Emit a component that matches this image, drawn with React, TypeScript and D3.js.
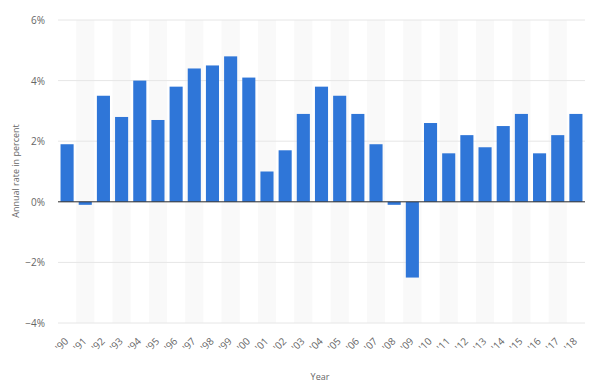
import React from "react";
import * as d3 from "d3";

const years = ["'90","'91","'92","'93","'94","'95","'96","'97","'98","'99","'00","'01","'02","'03","'04","'05","'06","'07","'08","'09","'10","'11","'12","'13","'14","'15","'16","'17","'18"];
const rates = [1.9,-0.1,3.5,2.8,4.0,2.7,3.8,4.4,4.5,4.8,4.1,1.0,1.7,2.9,3.8,3.5,2.9,1.9,-0.1,-2.5,2.6,1.6,2.2,1.8,2.5,2.9,1.6,2.2,2.9];
const yTicks = [-4,-2,0,2,4,6];

export default function App() {
  const W = 600, H = 389;
  const left = 58, right = 585, top = 20, bottom = 323;
  const x = d3.scaleBand<string>().domain(years).range([left, right]).paddingInner(0.28).paddingOuter(0.14);
  const y = d3.scaleLinear().domain([-4, 6]).range([bottom, top]);
  const step = x.step();
  return (
    <svg width={W} height={H} style={{ position: "absolute", left: 0, top: 0, fontFamily: "'Open Sans', sans-serif" }}>
      <rect width={W} height={H} fill="#fff" />
      {years.map((yr, i) => i % 2 === 1 ? (
        <rect key={"s" + yr} x={(x(yr) as number) - (step - x.bandwidth()) / 2} y={top} width={step} height={bottom - top} fill="#f9f9f9" />
      ) : null)}
      {yTicks.map(t => (
        <g key={"g" + t}>
          <line x1={left} x2={right} y1={y(t)} y2={y(t)} stroke="#e6e6e6" strokeWidth={1} />
          <text x={45} y={y(t) + 4} textAnchor="end" fontSize={10} fill="#666">{t < 0 ? "\u2212" + Math.abs(t) + "%" : t + "%"}</text>
        </g>
      ))}
      {years.map((yr, i) => (
        <rect key={"b" + yr} x={x(yr)} width={x.bandwidth()} y={y(Math.max(0, rates[i]))} height={Math.abs(y(rates[i]) - y(0))} fill="#2f76d8" />
      ))}
      <line x1={left} x2={right} y1={y(0)} y2={y(0)} stroke="#333" strokeWidth={1} />
      {years.map(yr => {
        const cx = (x(yr) as number) + x.bandwidth() / 2;
        return (
          <text key={"l" + yr} transform={`translate(${cx + 2},${bottom + 19}) rotate(-45)`} textAnchor="end" fontSize={10} fill="#666">{yr}</text>
        );
      })}
      <text transform={`translate(18.5,171) rotate(-90)`} textAnchor="middle" fontSize={9} fill="#666">Annual rate in percent</text>
      <text x={320} y={380} textAnchor="middle" fontSize={9} fill="#666">Year</text>
    </svg>
  );
}
